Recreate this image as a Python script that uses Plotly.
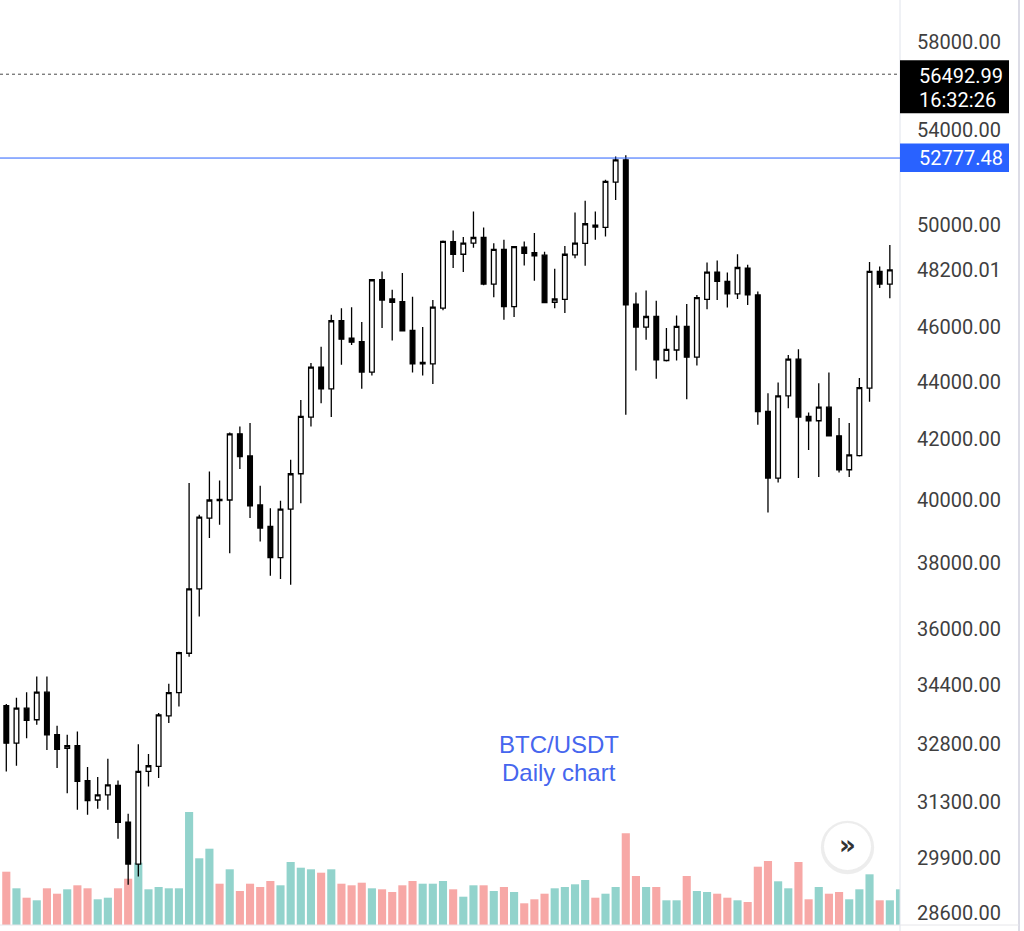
import math
import plotly.graph_objects as go

# ---- data (BTC/USDT daily) ----
opens = [33842, 32825, 33772, 33455, 34213, 33050, 32690, 32760, 31839, 31346,
         31476, 31717, 30790, 29757, 32081, 32211, 33563, 34201, 35310, 37206,
         39405, 40010, 39987, 42195, 41444, 39828, 39138, 38162, 39691, 40848,
         42771, 44543, 43763, 46249, 45602, 45474, 44363, 47813, 47073, 46970,
         45886, 44661, 44661, 46724, 49319, 48814, 49254, 49481, 47646, 49010,
         46783, 49092, 48877, 48776, 46948, 47061, 48787, 49245, 49984, 49887,
         51759, 52701, 46873, 46013, 46409, 44780, 45164, 46036, 44902, 47061,
         48113, 47747, 47268, 48269, 47229, 42964, 40706, 43512, 44830, 42792,
         42644, 43116, 42126, 40981, 41454, 43788, 48137, 47646]
highs = [33888, 34061, 34213, 34652, 34652, 33293, 33050, 33139, 32195, 31935,
         32410, 31847, 30997, 32798, 32540, 33636, 34446, 35355, 40540, 39510,
         40924, 40626, 42241, 42447, 42564, 40451, 39723, 39965, 41312, 43368,
         44686, 45287, 46473, 46724, 46761, 46200, 47840, 48137, 47424, 48074,
         47163, 46010, 47034, 49359, 49765, 49497, 50536, 49887, 49254, 49388,
         49145, 49319, 49659, 48916, 48242, 49145, 50496, 50983, 50536, 51856,
         52840, 52900, 47318, 47396, 47008, 45976, 46447, 46884, 47229, 48487,
         48565, 48098, 48814, 48398, 47357, 43609, 43990, 44985, 45190, 42930,
         43957, 44349, 42737, 42564, 44147, 48503, 48332, 49185]
lows = [32081, 32229, 32960, 33320, 32644, 32169, 31520, 31097, 30972, 31122,
        31097, 30373, 29261, 29460, 31691, 31909, 33366, 33815, 35214, 36380,
        38769, 39192, 38296, 41004, 39405, 38661, 37603, 37502, 37328, 39882,
        42447, 43254, 42771, 44625, 45351, 43763, 44241, 45976, 45512, 45850,
        44349, 44241, 43932, 46641, 48269, 48113, 49076, 47600, 47139, 46286,
        46387, 48370, 47774, 46911, 46724, 46537, 48659, 48359, 49388, 49522,
        51011, 42851, 44420, 45538, 44122, 44744, 44780, 43393, 44600, 46687,
        47034, 46746, 47073, 46847, 42506, 39583, 40560, 43082, 40706, 41643,
        40739, 42102, 40891, 40739, 41421, 43309, 47490, 47100]
closes = [32825, 33772, 33436, 34213, 33050, 32663, 32760, 31821, 31329, 31476,
          31735, 30780, 29757, 32081, 32229, 33590, 34201, 35327, 37206, 39437,
          39987, 39965, 42195, 41421, 39796, 39087, 38162, 39691, 40848, 42792,
          44543, 43763, 46249, 45564, 45452, 44363, 47813, 47034, 46948, 45875,
          44661, 44708, 46761, 49327, 48814, 49254, 49481, 47646, 49010, 46783,
          49116, 48853, 48748, 46933, 47073, 48814, 49254, 50036, 49903, 51784,
          52701, 46847, 46013, 46409, 44805, 45190, 46036, 44902, 47124, 48113,
          47747, 47268, 48292, 47229, 42964, 40706, 43512, 44830, 42771, 42644,
          43116, 42126, 40981, 41477, 43809, 48137, 47646, 48200.01]
volumes = [53300, 36700, 27300, 24700, 36700, 31300, 35700, 39700, 36700, 25700,
           27300, 36700, 46300, 62300, 35700, 38000, 36700, 36700, 113000, 66700,
           76300, 41300, 55700, 34000, 41300, 38000, 44000, 39700, 63000, 57300,
           55700, 52300, 55700, 41300, 39700, 42300, 36700, 35700, 33000, 39700,
           44000, 41300, 41300, 44000, 35700, 28300, 39700, 39700, 34000, 38000,
           33000, 21700, 25700, 31300, 36700, 38000, 40700, 45000, 27300, 31300,
           38000, 91700, 49000, 38000, 38000, 24700, 24700, 49000, 34000, 33000,
           31300, 27300, 24700, 23000, 58300, 64000, 43700, 36700, 63000, 25700,
           38000, 31300, 33000, 25700, 35700, 50700, 24700, 24700, 35700]
last_bar_up = True  # volume of the running (hidden) candle

tick_vals = [58000, 54000, 50000, 48200.01, 46000, 44000, 42000, 40000,
             38000, 36000, 34400, 32800, 31300, 29900, 28600]
last_price = 56492.99
last_time = "16:32:26"
level_price = 52777.48
title_lines = ["BTC/USDT", "Daily chart"]

# ---- styling ----
UP_VOL = "#92d3cc"
DN_VOL = "#f7a8a6"
TXT = "#3f3f3f"
BLUE = "#2962ff"
LBL_SIZE = 20

idx = list(range(len(opens)))
vol_idx = list(range(len(volumes)))
vol_colors = [UP_VOL if c >= o else DN_VOL for o, c in zip(opens, closes)]
vol_colors.append(UP_VOL if last_bar_up else DN_VOL)

fig = go.Figure()
fig.add_trace(go.Bar(x=vol_idx, y=volumes, marker=dict(color=vol_colors, line=dict(width=0)),
                     yaxis="y", hoverinfo="skip", showlegend=False))
fig.add_trace(go.Candlestick(
    x=idx, open=opens, high=highs, low=lows, close=closes, yaxis="y2",
    increasing=dict(line=dict(color="#000000", width=1.3), fillcolor="#ffffff"),
    decreasing=dict(line=dict(color="#000000", width=1.3), fillcolor="#000000"),
    whiskerwidth=0, showlegend=False, hoverinfo="skip"))

y_top = 60000.0
y_bot = 28322.0
L_TOP, L_BOT = math.log10(y_top), math.log10(y_bot)


def price_to_paper(v):
    """Fraction of the plot height at which price v sits on the log price axis."""
    return (math.log10(v) - L_BOT) / (L_TOP - L_BOT)


fig.update_layout(
    width=1024, height=931,
    margin=dict(l=0, r=124, t=0, b=6),
    paper_bgcolor="white", plot_bgcolor="white",
    showlegend=False, bargap=0.2, boxgap=0.34,
    xaxis=dict(range=[-0.62, 88.0], visible=False, rangeslider=dict(visible=False),
               showgrid=False, zeroline=False),
    yaxis=dict(range=[0, 925000], visible=False, showgrid=False, zeroline=False),
    yaxis2=dict(type="log", overlaying="y", side="right",
                range=[L_BOT, L_TOP],
                tickvals=tick_vals, ticktext=[f"{v:.2f}" for v in tick_vals],
                tickfont=dict(family="Roboto", size=LBL_SIZE, color=TXT),
                ticks="", ticklabelstandoff=16, showgrid=False, zeroline=False,
                showline=False),
)

yl = price_to_paper(last_price)
yv = price_to_paper(level_price)

shapes = []
# right separators and bottom line
shapes.append(dict(type="line", xref="paper", yref="paper", x0=1.0, x1=1.0, y0=-0.01, y1=1.0,
                   line=dict(color="#e0e3eb", width=1)))
shapes.append(dict(type="line", xref="paper", yref="paper", x0=1019/900, x1=1019/900, y0=-0.01, y1=1.0,
                   line=dict(color="#dcdce6", width=2)))
shapes.append(dict(type="line", xref="paper", yref="paper", x0=0, x1=1019/900, y0=0, y1=0,
                   line=dict(color="#e6e6ea", width=1)))
# last price dotted line and horizontal level
shapes.append(dict(type="line", xref="paper", yref="paper", x0=0, x1=1, y0=yl, y1=yl,
                   line=dict(color="#4a4a4a", width=1, dash="dot")))
shapes.append(dict(type="line", xref="paper", yref="paper", x0=0, x1=1, y0=yv, y1=yv,
                   line=dict(color=BLUE, width=1)))
# price label boxes
shapes.append(dict(type="rect", xref="paper", yref="paper", x0=1.0, x1=1009/900,
                   ysizemode="pixel", yanchor=yl, y0=-39, y1=14,
                   fillcolor="#000000", line=dict(width=0)))
shapes.append(dict(type="rect", xref="paper", yref="paper", x0=1.0, x1=1009/900,
                   ysizemode="pixel", yanchor=yv, y0=-14, y1=14.5,
                   fillcolor=BLUE, line=dict(width=0)))
# scroll button (circle with soft shadow)
bx0, bx1 = 823.5/900, 871.5/900
by0, by1 = 1 - 870.5/925, 1 - 822.5/925
shapes.append(dict(type="circle", xref="paper", yref="paper", x0=bx0-0.003, x1=bx1+0.003,
                   y0=by0-0.004, y1=by1+0.002, fillcolor="rgba(0,0,0,0.07)", line=dict(width=0)))
shapes.append(dict(type="circle", xref="paper", yref="paper", x0=bx0, x1=bx1, y0=by0, y1=by1,
                   fillcolor="#ffffff", line=dict(color="#ececec", width=1)))
fig.update_layout(shapes=shapes)

ann = []
ann.append(dict(xref="paper", yref="paper", x=917/900, y=yl, xanchor="left",
                yanchor="middle", yshift=-2, text=f"{last_price:.2f}", showarrow=False,
                font=dict(family="Roboto", size=LBL_SIZE, color="#ffffff")))
ann.append(dict(xref="paper", yref="paper", x=917/900, y=yl, xanchor="left",
                yanchor="middle", yshift=-26, text=last_time, showarrow=False,
                font=dict(family="Roboto", size=LBL_SIZE, color="#ffffff")))
ann.append(dict(xref="paper", yref="paper", x=917/900, y=yv, xanchor="left",
                yanchor="middle", text=f"{level_price:.2f}", showarrow=False,
                font=dict(family="Roboto", size=LBL_SIZE, color="#ffffff")))
ann.append(dict(xref="paper", yref="paper", x=559/900, y=1 - 744/925, xanchor="center",
                yanchor="middle", text=title_lines[0], showarrow=False,
                font=dict(family="Liberation Sans", size=24, color="#4666ee")))
ann.append(dict(xref="paper", yref="paper", x=559/900, y=1 - 772/925, xanchor="center",
                yanchor="middle", text=title_lines[1], showarrow=False,
                font=dict(family="Liberation Sans", size=24, color="#4666ee")))
ann.append(dict(xref="paper", yref="paper", x=(bx0+bx1)/2, y=(by0+by1)/2 + 0.002, xanchor="center",
                yanchor="middle", text="<b>»</b>", showarrow=False,
                font=dict(family="DejaVu Sans", size=26, color="#333333")))
fig.update_layout(annotations=ann)

fig.write_html("out.html")
